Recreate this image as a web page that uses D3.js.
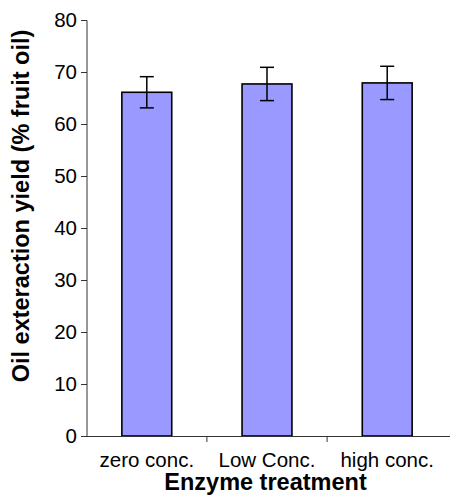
<!DOCTYPE html>
<html lang="en">
<head>
    <meta charset="UTF-8">
    <title>Enzyme treatment</title>
    <script src="https://d3js.org/d3.v7.min.js"></script>
    <style>
        body { margin: 0; background: #fff; }
        text { font-family: "Liberation Sans", Arial, sans-serif; }
    </style>
</head>
<body>
<svg id="chart"></svg>
<script>
    // data
    var categories = ["zero conc.", "Low Conc.", "high conc."];
    var yields = [66.1, 67.7, 67.9];
    var errors = [3.0, 3.2, 3.2];
    var yTicks = [0, 10, 20, 30, 40, 50, 60, 70, 80];

    var W = 450, H = 498;
    var margin = { top: 20, right: 0, bottom: 62, left: 87 },
        width = W - margin.left - margin.right,
        height = H - margin.top - margin.bottom;

    var svg = d3.select("#chart")
        .attr("width", W)
        .attr("height", H)
        .append("g")
        .attr("transform", "translate(" + margin.left + "," + margin.top + ")");

    var x = d3.scaleBand()
        .domain(categories)
        .range([0, width - 3])
        .paddingInner(0.585)
        .paddingOuter(0.29);

    var y = d3.scaleLinear()
        .domain([0, 80])
        .range([height, 0]);

    // bars
    svg.selectAll("rect.bar")
        .data(categories)
        .enter()
        .append("rect")
        .attr("class", "bar")
        .attr("x", function (d) { return x(d); })
        .attr("y", function (d, i) { return y(yields[i]); })
        .attr("width", x.bandwidth())
        .attr("height", function (d, i) { return height - y(yields[i]); })
        .attr("fill", "#9999ff")
        .attr("stroke", "#000")
        .attr("stroke-width", 1.6);

    // error bars
    var eb = svg.selectAll("g.err")
        .data(categories)
        .enter()
        .append("g")
        .attr("class", "err")
        .attr("stroke", "#000")
        .attr("stroke-width", 1.5);
    var cx = function (d) { return x(d) + x.bandwidth() / 2; };
    eb.append("line")
        .attr("x1", cx).attr("x2", cx)
        .attr("y1", function (d, i) { return y(yields[i] + errors[i]); })
        .attr("y2", function (d, i) { return y(yields[i] - errors[i]); });
    [1, -1].forEach(function (s) {
        eb.append("line")
            .attr("x1", function (d) { return cx(d) - 7; })
            .attr("x2", function (d) { return cx(d) + 7; })
            .attr("y1", function (d, i) { return y(yields[i] + s * errors[i]); })
            .attr("y2", function (d, i) { return y(yields[i] + s * errors[i]); });
    });

    // y axis
    var yAxis = svg.append("g")
        .call(d3.axisLeft(y).tickValues(yTicks).tickSize(6).tickPadding(4));
    yAxis.select(".domain").attr("stroke", "#333").attr("d", "M0," + (height + 0.5) + "V0.5H-6");
    yAxis.selectAll(".tick line").attr("stroke", "#333");
    yAxis.selectAll(".tick text")
        .style("font-size", "20.5px")
        .attr("fill", "#000");

    // x axis: line with ticks at category boundaries
    var xAxis = svg.append("g").attr("transform", "translate(0," + height + ")");
    xAxis.append("line")
        .attr("x1", -6).attr("x2", width)
        .attr("y1", 0.5).attr("y2", 0.5)
        .attr("stroke", "#333");
    var step = x.step();
    xAxis.selectAll("line.sep")
        .data(categories.slice(1))
        .enter()
        .append("line")
        .attr("class", "sep")
        .attr("x1", function (d) { return x(d) - x.paddingInner() * step / 2; })
        .attr("x2", function (d) { return x(d) - x.paddingInner() * step / 2; })
        .attr("y1", 0).attr("y2", 6)
        .attr("stroke", "#333");
    xAxis.selectAll("text.cat")
        .data(categories)
        .enter()
        .append("text")
        .attr("class", "cat")
        .attr("x", cx)
        .attr("y", 31)
        .attr("text-anchor", "middle")
        .style("font-size", "20.5px")
        .text(function (d) { return d; });

    // axis titles
    svg.append("text")
        .attr("x", width / 2 - 3)
        .attr("y", height + 54)
        .attr("text-anchor", "middle")
        .style("font-size", "23.5px")
        .style("font-weight", "bold")
        .text("Enzyme treatment");

    svg.append("text")
        .attr("transform", "translate(" + (29 - margin.left) + "," + (206 - margin.top) + ") rotate(-90)")
        .attr("text-anchor", "middle")
        .style("font-size", "23.5px")
        .style("font-weight", "bold")
        .text("Oil exteraction yield (% fruit oil)");
</script>
</body>
</html>
